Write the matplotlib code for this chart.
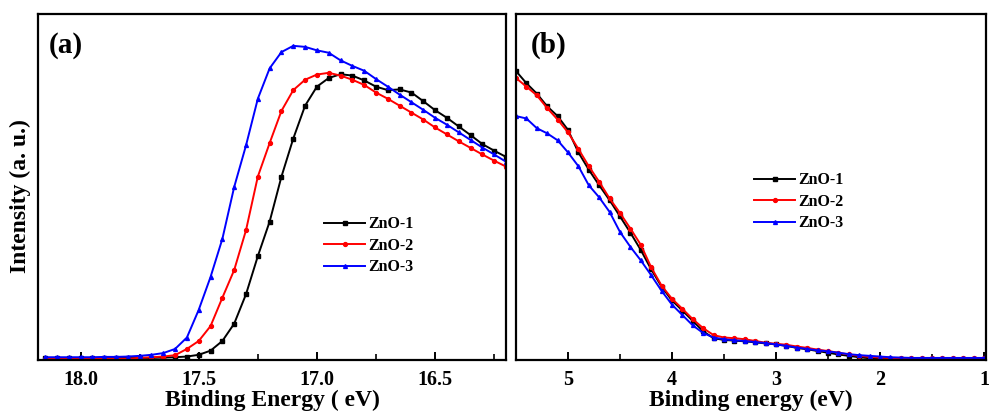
import numpy as np
import matplotlib
matplotlib.use("Agg")
import matplotlib.pyplot as plt
from matplotlib.ticker import MultipleLocator

# ---------------- Panel (a) data ----------------
xa = [18.15, 18.10, 18.05, 18.00, 17.95, 17.90, 17.85, 17.80, 17.75, 17.70,
      17.65, 17.60, 17.55, 17.50, 17.45, 17.40, 17.35, 17.30, 17.25, 17.20,
      17.15, 17.10, 17.05, 17.00, 16.95, 16.90, 16.85, 16.80, 16.75, 16.70,
      16.65, 16.60, 16.55, 16.50, 16.45, 16.40, 16.35, 16.30, 16.25, 16.20]
a_zno1 = [0.006, 0.006, 0.006, 0.006, 0.006, 0.006, 0.006, 0.006, 0.006, 0.006,
          0.007, 0.008, 0.010, 0.015, 0.027, 0.055, 0.105, 0.190, 0.300, 0.400,
          0.530, 0.640, 0.735, 0.790, 0.815, 0.826, 0.822, 0.808, 0.790, 0.780,
          0.782, 0.773, 0.748, 0.722, 0.700, 0.675, 0.650, 0.624, 0.605, 0.587]
a_zno2 = [0.004, 0.004, 0.004, 0.004, 0.004, 0.004, 0.004, 0.004, 0.006, 0.008,
          0.010, 0.014, 0.032, 0.055, 0.098, 0.180, 0.260, 0.375, 0.530, 0.627,
          0.720, 0.780, 0.810, 0.825, 0.830, 0.822, 0.810, 0.795, 0.773, 0.755,
          0.735, 0.715, 0.695, 0.672, 0.652, 0.632, 0.613, 0.594, 0.576, 0.559]
a_zno3 = [0.008, 0.008, 0.008, 0.008, 0.008, 0.009, 0.009, 0.010, 0.012, 0.015,
          0.020, 0.032, 0.065, 0.145, 0.240, 0.350, 0.500, 0.620, 0.755, 0.843,
          0.890, 0.908, 0.905, 0.895, 0.888, 0.866, 0.850, 0.836, 0.812, 0.790,
          0.767, 0.745, 0.723, 0.700, 0.680, 0.658, 0.636, 0.614, 0.594, 0.573]

# ---------------- Panel (b) data ----------------
xb = [5.5, 5.4, 5.3, 5.2, 5.1, 5.0, 4.9, 4.8, 4.7, 4.6,
      4.5, 4.4, 4.3, 4.2, 4.1, 4.0, 3.9, 3.8, 3.7, 3.6,
      3.5, 3.4, 3.3, 3.2, 3.1, 3.0, 2.9, 2.8, 2.7, 2.6,
      2.5, 2.4, 2.3, 2.2, 2.1, 2.0, 1.9, 1.8, 1.7, 1.6,
      1.5, 1.4, 1.3, 1.2, 1.1, 1.0]
b_zno1 = [0.835, 0.800, 0.770, 0.733, 0.705, 0.665, 0.600, 0.550, 0.505, 0.462,
          0.415, 0.368, 0.318, 0.262, 0.212, 0.172, 0.143, 0.113, 0.083, 0.063,
          0.058, 0.056, 0.054, 0.051, 0.048, 0.045, 0.041, 0.035, 0.031, 0.026,
          0.021, 0.016, 0.012, 0.008, 0.005, 0.004, 0.004, 0.004, 0.004, 0.004,
          0.004, 0.004, 0.004, 0.004, 0.004, 0.004]
b_zno2 = [0.815, 0.790, 0.765, 0.728, 0.695, 0.658, 0.610, 0.560, 0.515, 0.467,
          0.425, 0.380, 0.333, 0.268, 0.215, 0.177, 0.148, 0.118, 0.092, 0.072,
          0.065, 0.063, 0.060, 0.055, 0.050, 0.047, 0.044, 0.039, 0.035, 0.030,
          0.026, 0.021, 0.016, 0.012, 0.009, 0.007, 0.006, 0.005, 0.005, 0.005,
          0.005, 0.005, 0.005, 0.005, 0.005, 0.005]
b_zno3 = [0.705, 0.698, 0.670, 0.655, 0.635, 0.600, 0.560, 0.505, 0.470, 0.428,
          0.370, 0.327, 0.288, 0.245, 0.200, 0.160, 0.130, 0.100, 0.078, 0.065,
          0.060, 0.057, 0.055, 0.052, 0.049, 0.045, 0.041, 0.036, 0.032, 0.028,
          0.025, 0.021, 0.017, 0.014, 0.012, 0.010, 0.008, 0.007, 0.006, 0.006,
          0.006, 0.006, 0.006, 0.006, 0.006, 0.006]

labels = ["ZnO-1", "ZnO-2", "ZnO-3"]
colors = ["#000000", "#FF0000", "#0000FF"]
markers = ["s", "o", "^"]

plt.rcParams['font.family'] = ['Liberation Serif', 'DejaVu Serif']
plt.rcParams['font.weight'] = 'bold'

fig = plt.figure(figsize=(9.92, 4.18), dpi=100)
W, H = 992, 418
def axrect(x0, x1, y0, y1):
    return [x0 / W, 1 - y1 / H, (x1 - x0) / W, (y1 - y0) / H]

ax1 = fig.add_axes(axrect(38, 506, 14, 360))
ax2 = fig.add_axes(axrect(516, 986, 14, 360))

for ax, x, series in [(ax1, xa, [a_zno1, a_zno2, a_zno3]),
                      (ax2, xb, [b_zno1, b_zno2, b_zno3])]:
    for y, lab, c, m in zip(series, labels, colors, markers):
        ax.plot(x, y, color=c, marker=m, markersize=2.8, linewidth=1.4, label=lab)
    for s in ax.spines.values():
        s.set_linewidth(1.6)
    ax.set_yticks([])
    ax.set_ylim(0, 1.0)
    ax.tick_params(axis='x', which='major', direction='in', length=6, width=1.4,
                   labelsize=14.5, pad=7, top=False)
    ax.tick_params(axis='x', which='minor', direction='in', length=4, width=1.2, top=False)

ax1.set_xlim(18.18, 16.20)
ax1.xaxis.set_minor_locator(MultipleLocator(0.25))
ax1.set_xticks([18.0, 17.5, 17.0, 16.5])
ax1.set_xticklabels(["18.0", "17.5", "17.0", "16.5"], fontweight='bold')

ax2.set_xlim(5.5, 0.98)
ax2.xaxis.set_minor_locator(MultipleLocator(0.5))
ax2.set_xticks([5, 4, 3, 2, 1])
ax2.set_xticklabels(["5", "4", "3", "2", "1"], fontweight='bold')

ax1.set_xlabel("Binding Energy ( eV)", fontsize=17, fontweight='bold', labelpad=0)
ax2.set_xlabel("Binding energy (eV)", fontsize=17, fontweight='bold', labelpad=0)
fig.text(20 / W, 1 - 196 / H, "Intensity (a. u.)", rotation=90, ha='center', va='center',
         fontsize=17, fontweight='bold')

ax1.text(0.024, 0.91, "(a)", transform=ax1.transAxes, fontsize=21, fontweight='bold',
         ha='left', va='center')
ax2.text(0.032, 0.91, "(b)", transform=ax2.transAxes, fontsize=21, fontweight='bold',
         ha='left', va='center')

leg_kw = dict(frameon=False, handlelength=2.6, handletextpad=0.2,
              labelspacing=0.35, borderpad=0, borderaxespad=0, loc='center left',
              prop={'weight': 'bold', 'size': 11.5})
ax1.legend(bbox_to_anchor=(0.611, 0.33), **leg_kw)
ax2.legend(bbox_to_anchor=(0.506, 0.457), **leg_kw)

fig.savefig("out.png", dpi=100)
